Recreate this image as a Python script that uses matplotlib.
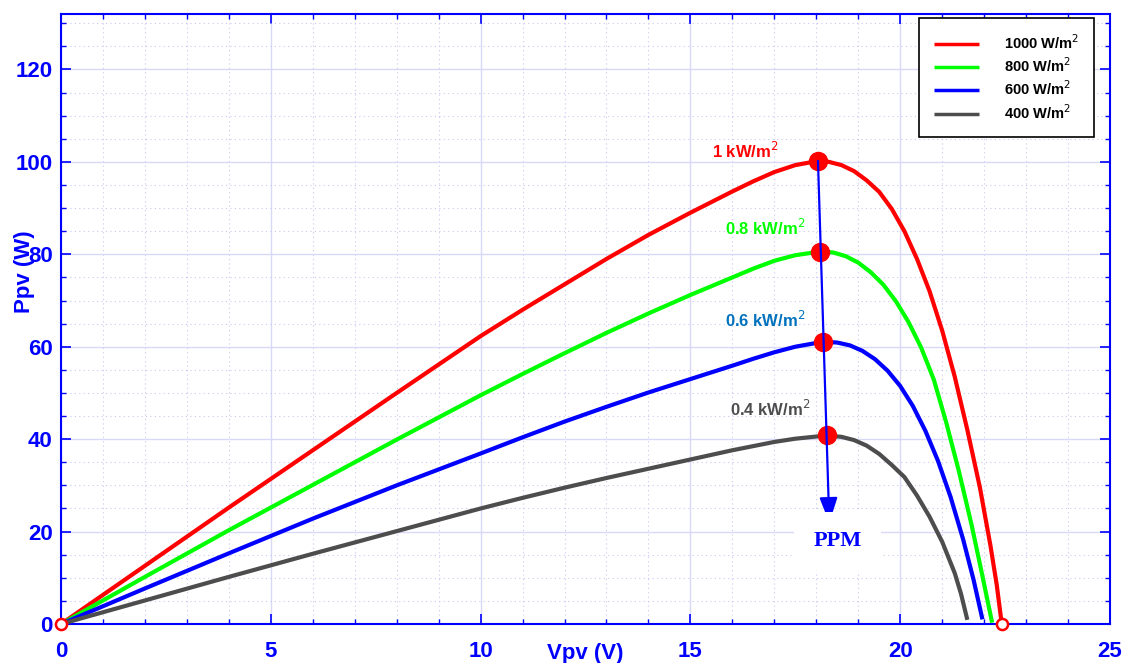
import matplotlib
matplotlib.use('Agg')
import matplotlib.pyplot as plt
from matplotlib.ticker import MultipleLocator

plt.rcParams['font.family'] = ['Liberation Sans', 'DejaVu Sans']

# P-V curves (V in volts, P in watts)
v_1000 = [0, 2, 4, 6, 8, 10, 11, 12, 13, 14, 15, 16, 16.5, 17, 17.5, 18.04, 18.3, 18.6, 18.9, 19.2, 19.5, 19.8,
	20.1, 20.4, 20.7, 21.0, 21.3, 21.6, 21.9, 22.15, 22.3, 22.42]
p_1000 = [0, 12.6, 25.2, 37.6, 50.0, 62.3, 68.0, 73.5, 79.0, 84.2, 89.0, 93.6, 95.8, 97.8, 99.3, 100.2, 100.0, 99.3, 98.0, 96.0, 93.5, 89.8,
	85.0, 79.0, 72.0, 63.5, 53.5, 42.0, 29.5, 17.0, 8.5, 0]

v_800 = [0, 2, 4, 6, 8, 10, 11, 12, 13, 14, 15, 16, 16.5, 17, 17.5, 18.09, 18.4, 18.7, 19.0, 19.3, 19.6, 19.9,
	20.2, 20.5, 20.8, 21.1, 21.4, 21.7, 21.95, 22.19]
p_800 = [0, 10.2, 20.3, 30.1, 39.9, 49.5, 54.1, 58.6, 63.0, 67.2, 71.2, 75.0, 76.9, 78.6, 79.8, 80.6, 80.4, 79.6, 78.2, 76.1, 73.4, 69.8,
	65.3, 59.8, 52.9, 43.5, 33.0, 21.5, 10.8, 0.3]

v_600 = [0, 2, 4, 6, 8, 10, 11, 12, 13, 14, 15, 16, 16.5, 17, 17.5, 18.17, 18.5, 18.8, 19.1, 19.4, 19.7, 20.0,
	20.3, 20.6, 20.9, 21.2, 21.5, 21.75, 21.96]
p_600 = [0, 7.7, 15.3, 22.8, 30.0, 36.9, 40.4, 43.8, 47.0, 50.1, 53.0, 55.9, 57.4, 58.8, 60.0, 61.1, 60.9, 60.3, 59.1, 57.3, 54.8, 51.5,
	47.2, 41.8, 35.3, 27.5, 18.3, 9.5, 1.0]

v_400 = [0, 2, 4, 6, 8, 10, 11, 12, 13, 14, 15, 16, 16.5, 17, 17.5, 18.25, 18.6, 18.9, 19.2, 19.5, 19.8,
	20.1, 20.4, 20.7, 21.0, 21.3, 21.45, 21.6]
p_400 = [0, 5.1, 10.2, 15.2, 20.1, 25.0, 27.3, 29.5, 31.6, 33.6, 35.6, 37.6, 38.5, 39.4, 40.1, 40.8, 40.5, 39.8, 38.6, 36.8, 34.4,
	31.8, 27.8, 23.2, 17.8, 11.0, 6.5, 0.9]

legend_labels = ['1000 W/m$^2$', '800 W/m$^2$', '600 W/m$^2$', '400 W/m$^2$']
curve_labels = ['1 kW/m$^2$', '0.8 kW/m$^2$', '0.6 kW/m$^2$', '0.4 kW/m$^2$']
label_pos = [(16.3, 102.4), (16.78, 85.7), (16.78, 65.7), (16.9, 46.6)]
mpp_v = [18.04, 18.09, 18.17, 18.25]
mpp_p = [100.2, 80.6, 61.1, 40.8]

colors = ['#ff0000', '#00ff00', '#0000ff', '#4d4d4d']
label_colors = ['#ff0000', '#00ff00', '#0072bd', '#4d4d4d']

fig = plt.figure(figsize=(11.26, 6.63), dpi=100)
ax = fig.add_axes([0.0542, 0.0588, 0.9316, 0.9201])

curves = [(v_1000, p_1000), (v_800, p_800), (v_600, p_600), (v_400, p_400)]
for (v, p), c, lab in zip(curves, colors, legend_labels):
	ax.plot(v, p, color=c, lw=3, label=lab, zorder=3, solid_capstyle='butt', solid_joinstyle='round')

# origin / open-circuit markers
ax.plot([0, 22.42], [0, 0], 'o', mfc='white', mec='red', ms=8, mew=1.8, zorder=5, clip_on=False)

# maximum power points
ax.plot(mpp_v, mpp_p, 'o', color='red', ms=13, zorder=4)

for txt, (x, y), c in zip(curve_labels, label_pos, label_colors):
	ax.text(x, y, txt, color=c, fontsize=12, fontweight='bold', ha='center', va='center', zorder=6)

ax.annotate('', xy=(18.31, 21.9), xytext=(18.04, 100.2),
	arrowprops=dict(arrowstyle='-|>,head_length=0.7,head_width=0.25', color='blue', lw=1.6,
		mutation_scale=22, shrinkA=0, shrinkB=0),
	zorder=6)
ax.text(18.51, 17.9, 'PPM', color='blue', fontsize=16, fontweight='bold', family='Liberation Serif',
	ha='center', va='center', zorder=6,
	bbox=dict(facecolor='white', edgecolor='none', pad=14))

ax.set_xlim(0, 25)
ax.set_ylim(0, 132)
ax.xaxis.set_major_locator(MultipleLocator(5))
ax.xaxis.set_minor_locator(MultipleLocator(1))
ax.yaxis.set_major_locator(MultipleLocator(20))
ax.yaxis.set_minor_locator(MultipleLocator(5))

ax.grid(which='major', color='#d8d8f8', lw=1, ls='-', zorder=0)
ax.grid(which='minor', color='#c8c8f0', lw=0.8, ls=(0, (1, 3)), zorder=0)
ax.set_axisbelow(True)

for s in ax.spines.values():
	s.set_color('blue')
	s.set_linewidth(1.5)

ax.tick_params(which='both', direction='in', top=True, right=True, colors='blue')
ax.tick_params(which='major', length=7, width=1.2, labelsize=16)
ax.tick_params(which='minor', length=3.5, width=1)
ax.tick_params(axis='x', which='major', pad=12)
ax.tick_params(axis='y', which='major', pad=6)
for lbl in ax.get_xticklabels() + ax.get_yticklabels():
	lbl.set_fontweight('bold')

ax.set_xlabel('Vpv (V)', color='blue', fontsize=16, fontweight='bold')
ax.set_ylabel('Ppv (W)', color='blue', fontsize=16, fontweight='bold')
ax.xaxis.set_label_coords(0.4995, -0.031)
ax.yaxis.set_label_coords(-0.0248, 0.577)

leg = ax.legend(loc='upper right', bbox_to_anchor=(0.985, 0.994), borderaxespad=0,
	fancybox=False, edgecolor='black', framealpha=1, handlelength=3.1, handletextpad=1.7,
	borderpad=1.05, labelspacing=0.32, prop={'weight': 'bold', 'size': 10.5})
leg.get_frame().set_linewidth(1.2)
for line in leg.get_lines():
	line.set_linewidth(2.5)

fig.savefig('out.png', dpi=100)
